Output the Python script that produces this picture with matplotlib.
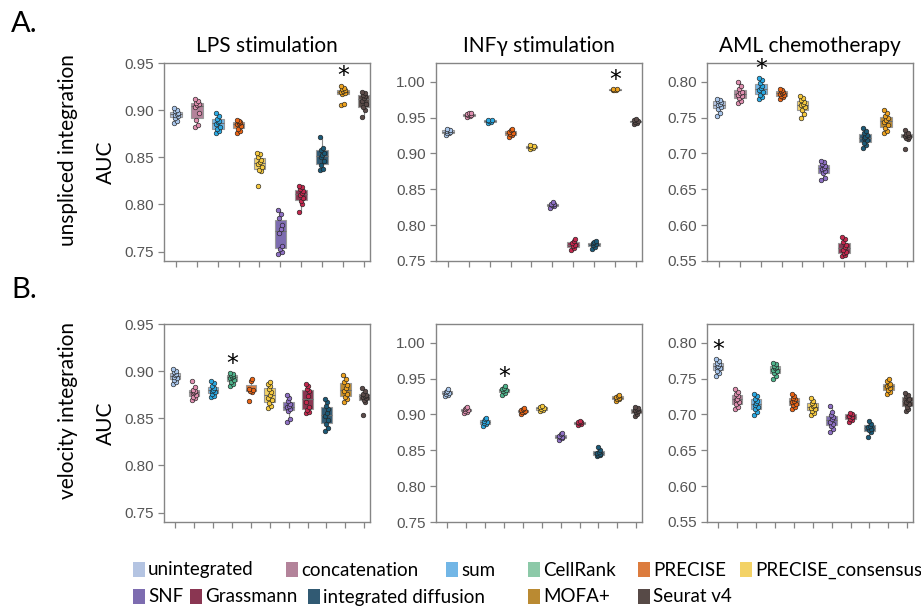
import matplotlib
matplotlib.use("Agg")
import matplotlib.pyplot as plt
from matplotlib.patches import Rectangle
import numpy as np

# methods, legend colours (boxes) and brighter point colours
methods = ["unintegrated", "concatenation", "sum", "CellRank", "PRECISE",
           "PRECISE_consensus", "SNF", "Grassmann", "integrated diffusion",
           "MOFA+", "Seurat v4"]
box_colors = ["#b4c4e2", "#b3839a", "#72b6e6", "#8cc9a8", "#dc7c3e",
              "#f3d266", "#7d6cb0", "#8a3652", "#315a73", "#ba8a32", "#574a47"]
point_colors = ["#a9c6ec", "#e08fb0", "#2aa9e3", "#4fb48c", "#eb6414",
                "#f6c93e", "#8e70c4", "#c5284e", "#1b5a78", "#eda21e", "#5b4b49"]

# unspliced integration has no CellRank
top_methods = [0, 1, 2, 4, 5, 6, 7, 8, 9, 10]
bottom_methods = list(range(11))

# unspliced integration, AUC per run
lps_unspliced = [
    [0.886, 0.889, 0.892, 0.894, 0.895, 0.896, 0.897, 0.899, 0.900, 0.902],
    [0.882, 0.884, 0.890, 0.897, 0.903, 0.905, 0.906, 0.908, 0.910, 0.912],
    [0.876, 0.878, 0.880, 0.882, 0.885, 0.887, 0.889, 0.891, 0.894, 0.897],
    [0.876, 0.878, 0.880, 0.883, 0.885, 0.886, 0.887, 0.888, 0.889, 0.890],
    [0.820, 0.835, 0.837, 0.840, 0.843, 0.845, 0.847, 0.850, 0.853, 0.855],
    [0.747, 0.750, 0.753, 0.756, 0.770, 0.774, 0.778, 0.786, 0.790, 0.794],
    [0.792, 0.800, 0.804, 0.807, 0.810, 0.812, 0.814, 0.816, 0.818, 0.820],
    [0.836, 0.838, 0.842, 0.846, 0.850, 0.852, 0.855, 0.858, 0.860, 0.872],
    [0.905, 0.907, 0.917, 0.918, 0.919, 0.920, 0.921, 0.922, 0.924, 0.926],
    [0.893, 0.900, 0.903, 0.906, 0.910, 0.913, 0.915, 0.916, 0.918, 0.919],
]
inf_unspliced = [
    [0.926, 0.928, 0.929, 0.930, 0.931, 0.932, 0.933, 0.934],
    [0.951, 0.952, 0.953, 0.954, 0.955, 0.956, 0.957],
    [0.943, 0.944, 0.945, 0.946, 0.947],
    [0.923, 0.925, 0.927, 0.929, 0.930, 0.932, 0.934],
    [0.906, 0.908, 0.909, 0.910, 0.912],
    [0.824, 0.826, 0.828, 0.829, 0.830, 0.832],
    [0.765, 0.768, 0.771, 0.773, 0.775, 0.778, 0.780],
    [0.767, 0.770, 0.772, 0.774, 0.775, 0.776, 0.778],
    [0.988, 0.989, 0.989, 0.990, 0.990],
    [0.941, 0.943, 0.944, 0.945, 0.946, 0.948],
]
aml_unspliced = [
    [0.752, 0.757, 0.762, 0.765, 0.767, 0.769, 0.771, 0.773, 0.775, 0.776],
    [0.770, 0.773, 0.777, 0.780, 0.782, 0.784, 0.786, 0.790, 0.794, 0.799],
    [0.776, 0.778, 0.782, 0.786, 0.789, 0.791, 0.794, 0.798, 0.802, 0.805],
    [0.776, 0.778, 0.780, 0.782, 0.783, 0.784, 0.785, 0.787, 0.789, 0.790],
    [0.749, 0.755, 0.760, 0.764, 0.767, 0.769, 0.771, 0.774, 0.777, 0.780],
    [0.663, 0.666, 0.672, 0.675, 0.678, 0.680, 0.682, 0.685, 0.688, 0.690],
    [0.557, 0.559, 0.561, 0.563, 0.566, 0.569, 0.572, 0.576, 0.580, 0.583],
    [0.708, 0.712, 0.715, 0.719, 0.721, 0.723, 0.725, 0.728, 0.731, 0.735],
    [0.728, 0.731, 0.735, 0.740, 0.744, 0.746, 0.749, 0.752, 0.756, 0.760],
    [0.706, 0.720, 0.722, 0.723, 0.724, 0.725, 0.726, 0.727, 0.729, 0.732],
]

# velocity integration, AUC per run
lps_velocity = [
    [0.886, 0.889, 0.891, 0.893, 0.894, 0.896, 0.897, 0.899, 0.900, 0.902],
    [0.869, 0.871, 0.873, 0.875, 0.877, 0.878, 0.879, 0.880, 0.883, 0.890],
    [0.873, 0.874, 0.876, 0.878, 0.879, 0.880, 0.882, 0.884, 0.887, 0.890],
    [0.884, 0.886, 0.889, 0.891, 0.893, 0.894, 0.895, 0.896, 0.897, 0.898],
    [0.868, 0.878, 0.879, 0.880, 0.881, 0.890, 0.892],
    [0.861, 0.863, 0.866, 0.869, 0.872, 0.875, 0.878, 0.881, 0.884, 0.886, 0.888],
    [0.846, 0.849, 0.858, 0.860, 0.862, 0.863, 0.865, 0.868, 0.872, 0.875],
    [0.856, 0.857, 0.859, 0.862, 0.867, 0.874, 0.879, 0.881, 0.884, 0.886],
    [0.837, 0.840, 0.844, 0.848, 0.852, 0.856, 0.860, 0.863, 0.867, 0.870],
    [0.867, 0.870, 0.873, 0.876, 0.879, 0.882, 0.885, 0.888, 0.892, 0.896],
    [0.853, 0.867, 0.869, 0.871, 0.873, 0.874, 0.875, 0.876, 0.879, 0.882],
]
inf_velocity = [
    [0.925, 0.927, 0.929, 0.930, 0.931, 0.933, 0.935],
    [0.902, 0.904, 0.905, 0.906, 0.907, 0.909, 0.911],
    [0.884, 0.886, 0.888, 0.890, 0.891, 0.893, 0.895],
    [0.927, 0.930, 0.932, 0.934, 0.935, 0.937, 0.939],
    [0.901, 0.903, 0.904, 0.905, 0.906, 0.907, 0.909],
    [0.905, 0.906, 0.908, 0.909, 0.910, 0.912],
    [0.865, 0.867, 0.868, 0.869, 0.870, 0.872, 0.874],
    [0.885, 0.887, 0.888, 0.889, 0.890, 0.891],
    [0.842, 0.843, 0.844, 0.845, 0.846, 0.848, 0.850, 0.855],
    [0.919, 0.921, 0.922, 0.923, 0.924, 0.926, 0.927],
    [0.898, 0.900, 0.903, 0.905, 0.906, 0.907, 0.909, 0.910],
]
aml_velocity = [
    [0.753, 0.757, 0.761, 0.764, 0.766, 0.768, 0.770, 0.772, 0.774, 0.777],
    [0.707, 0.710, 0.714, 0.717, 0.720, 0.722, 0.725, 0.728, 0.731, 0.735],
    [0.699, 0.703, 0.707, 0.710, 0.713, 0.716, 0.719, 0.722, 0.726, 0.729],
    [0.750, 0.754, 0.757, 0.760, 0.762, 0.764, 0.766, 0.768, 0.770, 0.772],
    [0.707, 0.710, 0.713, 0.715, 0.717, 0.719, 0.721, 0.723, 0.726, 0.729],
    [0.699, 0.702, 0.705, 0.707, 0.709, 0.711, 0.713, 0.716, 0.719, 0.723],
    [0.676, 0.680, 0.684, 0.687, 0.690, 0.693, 0.696, 0.699, 0.703, 0.712],
    [0.689, 0.692, 0.694, 0.696, 0.698, 0.700, 0.701, 0.702],
    [0.669, 0.675, 0.678, 0.680, 0.682, 0.684, 0.687, 0.691],
    [0.729, 0.731, 0.734, 0.737, 0.739, 0.741, 0.743, 0.746, 0.750],
    [0.705, 0.707, 0.710, 0.714, 0.717, 0.720, 0.722, 0.725, 0.727, 0.730],
]

titles = ["LPS stimulation", "INF\u03b3 stimulation", "AML chemotherapy"]
row_labels = ["unspliced integration", "velocity integration"]
ylims = [(0.74, 0.95), (0.75, 1.026), (0.55, 0.826)]
yticks = [[0.75, 0.80, 0.85, 0.90, 0.95],
          [0.75, 0.80, 0.85, 0.90, 0.95, 1.00],
          [0.55, 0.60, 0.65, 0.70, 0.75, 0.80]]
# index (within the panel) of the best method, marked with *
best_top = [8, 8, 2]
best_bottom = [3, 3, 0]

# fixed horizontal spread of the points
jitter = [-0.09, 0.06, -0.03, 0.1, -0.07, 0.02, 0.08, -0.05, 0.04, -0.1, 0.0]

label_font = "Lato"
grey = "#858585"

fig = plt.figure(figsize=(9.21, 6.09), dpi=100)
W, H = 921, 609
col_left = [164, 436, 707]
col_width = 206
row_top = [63, 324]
row_h = 198

panels = [[lps_unspliced, inf_unspliced, aml_unspliced],
          [lps_velocity, inf_velocity, aml_velocity]]
panel_methods = [top_methods, bottom_methods]
panel_best = [best_top, best_bottom]

for r in range(2):
    for c in range(3):
        ax = fig.add_axes([col_left[c] / W, 1 - (row_top[r] + row_h) / H,
                           col_width / W, row_h / H])
        data = panels[r][c]
        idx = panel_methods[r]
        pos = np.arange(len(data))
        bp = ax.boxplot(data, positions=pos, widths=0.55, patch_artist=True,
                        showfliers=False, whis=1.5, zorder=2)
        for k, b in enumerate(bp["boxes"]):
            b.set_facecolor(box_colors[idx[k]])
            b.set_edgecolor("#9a9a9a")
            b.set_linewidth(0.8)
        for ln in bp["whiskers"]:
            ln.set_color("#8a8a8a")
            ln.set_linewidth(0.8)
        for ln in bp["caps"]:
            ln.set_visible(False)
        for ln in bp["medians"]:
            ln.set_color("#6e6e6e")
            ln.set_linewidth(0.8)
        for k, vals in enumerate(data):
            xs = [pos[k] + jitter[j % len(jitter)] for j in range(len(vals))]
            ax.scatter(xs, vals, s=11, color=point_colors[idx[k]],
                       edgecolor="#222222", linewidth=0.45, zorder=3)
        b = panel_best[r][c]
        ax.annotate("*", (pos[b], max(data[b])), xytext=(0, -2),
                    textcoords="offset points", ha="center", va="bottom",
                    fontsize=17, color="black", zorder=4)
        n = len(data)
        ax.set_xlim(-0.58, n - 1 + 0.3)
        ax.set_ylim(*ylims[c])
        ax.set_yticks(yticks[c])
        ax.set_yticklabels(["%.2f" % v for v in yticks[c]])
        ax.set_xticks(pos)
        ax.set_xticklabels([])
        for s in ax.spines.values():
            s.set_color(grey)
            s.set_linewidth(1.0)
        ax.tick_params(axis="both", direction="out", color=grey, width=0.9,
                       length=4, labelsize=11, labelcolor="#555555")
        for t in ax.get_yticklabels():
            t.set_fontfamily("Liberation Sans")
        if r == 0:
            ax.set_title(titles[c], fontsize=15, family=label_font, pad=8)
        if c == 0:
            ax.set_ylabel("AUC", fontsize=15, family=label_font, labelpad=6)
            yc = 1 - (row_top[r] + row_h / 2) / H
            fig.text(68 / W, yc + 0.02, row_labels[r], rotation=90,
                     ha="center", va="center", fontsize=15, family=label_font)

fig.text(11 / W, 1 - 24 / H, "A.", fontsize=21, family=label_font, va="center")
fig.text(11 / W, 1 - 290 / H, "B.", fontsize=21, family=label_font, va="center")

# legend, placed by hand in two rows
legend_x = [133, 286, 446, 528, 638, 740, 133, 190, 308, 528, 638]
legend_y = [570, 570, 570, 570, 570, 570, 597, 597, 597, 597, 597]
for k, name in enumerate(methods):
    x0 = legend_x[k]
    y0 = legend_y[k]
    fig.patches.append(Rectangle(((x0) / W, 1 - (y0 + 7) / H), 12 / W, 15 / H,
                                 transform=fig.transFigure,
                                 facecolor=box_colors[k], edgecolor="none"))
    fig.text((x0 + 15) / W, 1 - y0 / H, name, fontsize=13.5, family=label_font,
             ha="left", va="center")

fig.savefig("out.png", dpi=100)
